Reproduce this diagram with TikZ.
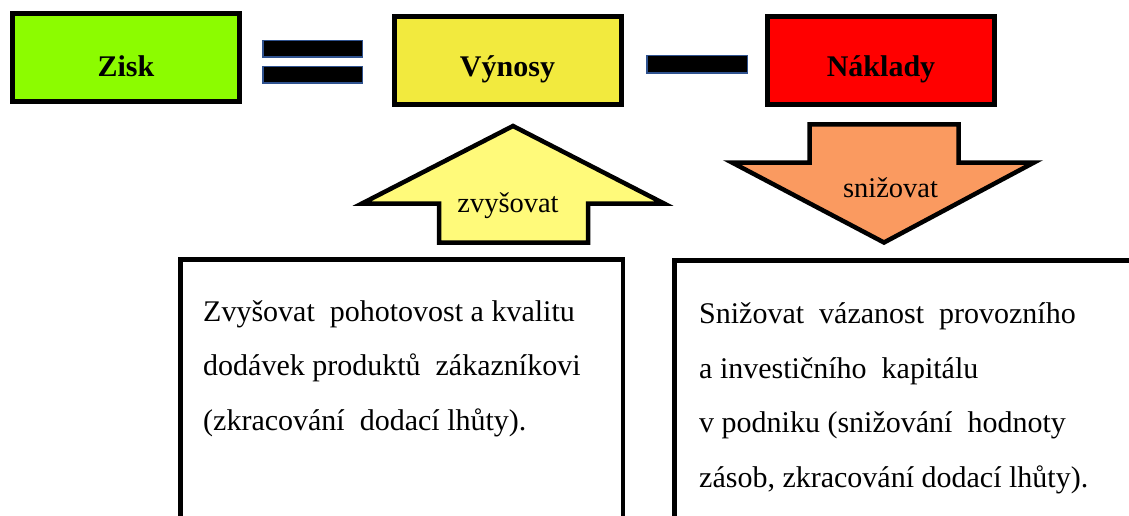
\documentclass[tikz,border=0pt]{standalone}
\usepackage{fontspec}
\setmainfont{Liberation Serif}
\definecolor{ziskgreen}{RGB}{140,252,0}
\definecolor{vynosyyellow}{RGB}{242,234,62}
\definecolor{nakladyred}{RGB}{255,0,0}
\definecolor{upfill}{RGB}{255,250,122}
\definecolor{downfill}{RGB}{250,154,96}
\definecolor{barblue}{RGB}{47,82,143}

\begin{document}
\begin{tikzpicture}[x=1pt,y=-1pt,
  titlebox/.style={draw=black,line width=5pt,minimum width=227pt,minimum height=88pt,inner sep=0pt,
    text height=33pt,text depth=0pt,font=\fontsize{30}{36}\selectfont\bfseries},
  signbar/.style={draw=barblue,fill=black,line width=1.5pt},
  blockarrow/.style={draw=black,line width=4.5pt},
  arrowlabel/.style={font=\fontsize{28.5}{34}\selectfont,anchor=base,inner sep=0pt},
  textbox/.style={draw=black,line width=4.5pt,inner sep=0pt,anchor=north west,minimum height=300pt},
  bodytext/.style={font=\fontsize{30}{54.5}\selectfont,align=left,anchor=north west,inner sep=0pt}]
  \clip (0,0) rectangle (1129,516);
  \node[titlebox,fill=ziskgreen,text height=39pt] (zisk) at (126,57.5) {Zisk};
  \node[titlebox,fill=vynosyyellow] (vynosy) at (507.5,60.5) {Výnosy};
  \node[titlebox,fill=nakladyred] (naklady) at (881,60.5) {Náklady};
  \draw[signbar] (262.75,40.75) rectangle (362.25,57.25);
  \draw[signbar] (262.75,66.75) rectangle (362.25,83.25);
  \draw[signbar] (646.75,55.75) rectangle (747.25,73.25);
  \draw[blockarrow,fill=upfill] (513,126) -- (664,203.5) -- (588,203.5) -- (588,242.5)
    -- (439,242.5) -- (439,203.5) -- (362,203.5) -- cycle;
  \node[arrowlabel] (uplabel) at (508,212) {zvyšovat};
  \draw[blockarrow,fill=downfill] (809.5,124.5) -- (958.5,124.5) -- (958.5,162.5) -- (1034,162.5)
    -- (884,242.5) -- (732,162.5) -- (809.5,162.5) -- cycle;
  \node[arrowlabel] (downlabel) at (890.5,197) {snižovat};
  \node[textbox,minimum width=442.5pt] (leftbox) at (178,257) {};
  \node[textbox,minimum width=500pt] (rightbox) at (672,258) {};
  \node[bodytext] (lefttext) at (203,300) {Zvyšovat\ \ pohotovost a kvalitu\\
    dodávek produktů\ \ zákazníkovi\\ (zkracování\ \ dodací lhůty).};
  \node[bodytext] (righttext) at (699,302.5) {Snižovat\ \ vázanost\ \ provozního\\
    a investičního\ \ kapitálu\\ v podniku (snižování\ \ hodnoty\\
    zásob, zkracování dodací lhůty).};
\end{tikzpicture}
\end{document}
